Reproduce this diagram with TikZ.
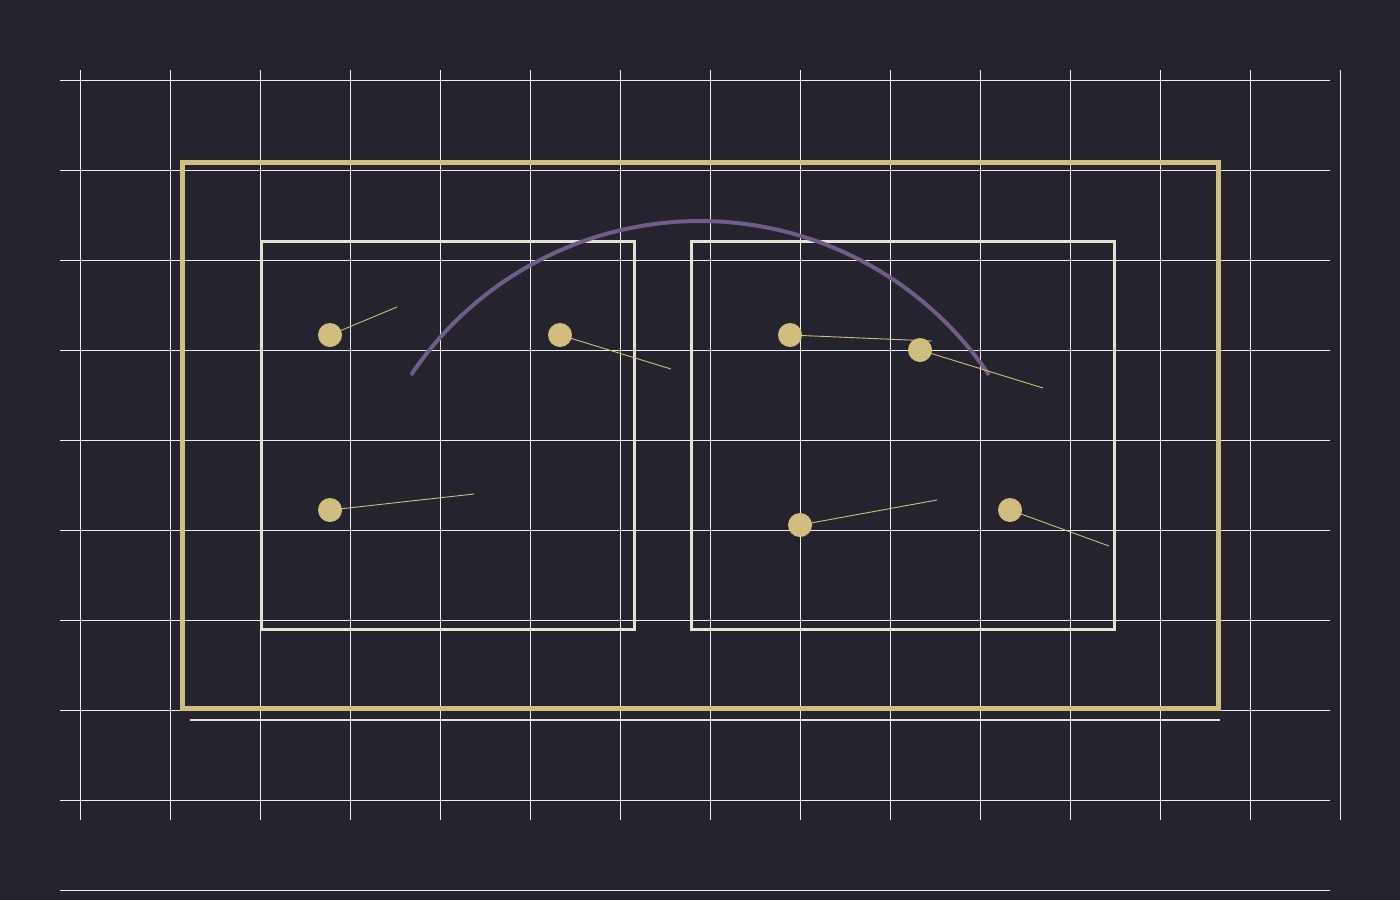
\documentclass[tikz,border=0pt]{standalone}
\usetikzlibrary{calc}
\definecolor{bg}{HTML}{25232E}
\definecolor{gold}{HTML}{CFBE7E}
\definecolor{cream}{HTML}{E6E1D6}
\definecolor{purp}{HTML}{705D86}
\begin{document}
\begin{tikzpicture}[x=1pt,y=-1pt,
  gridline/.style={draw=white!92!bg,line width=1pt},
  outerbox/.style={draw=gold,line width=5pt},
  innerbox/.style={draw=cream,line width=3pt},
  dot/.style={circle,fill=gold,minimum size=24pt,inner sep=0pt},
  leader/.style={draw=gold,line width=0.9pt},
  arcline/.style={draw=purp,line width=4pt}]
\fill[bg] (0,0) rectangle (1400,900);
\useasboundingbox (0,0) rectangle (1400,900);
% grid
\foreach \x in {80,170,...,1340} \draw[gridline] (\x,70) -- (\x,820);
\foreach \y in {80,170,...,800} \draw[gridline] (60,\y) -- (1330,\y);
\draw[gridline] (60,890) -- (1330,890);
% boxes
\draw[outerbox] (182,162) rectangle (1218,708);
\draw[draw=cream,line width=2pt] (190,720) -- (1220,720);
\draw[innerbox] (261,241) rectangle (634,629);
\draw[innerbox] (691,241) rectangle (1114,629);
% arc
\draw[arcline] (411,375) arc[start angle=-146.1,end angle=-33.9,radius=348.2];
% leaders
\coordinate (e1) at (397,307);
\coordinate (e2) at (671,369);
\coordinate (e3) at (932,341);
\coordinate (e4) at (1043,388);
\coordinate (e5) at (474,494);
\coordinate (e6) at (937,500);
\coordinate (e7) at (1109,546);
\coordinate (c1) at (330,335);
\coordinate (c2) at (560,335);
\coordinate (c3) at (790,335);
\coordinate (c4) at (920,350);
\coordinate (c5) at (330,510);
\coordinate (c6) at (800,525);
\coordinate (c7) at (1010,510);
\foreach \i in {1,...,7} \draw[leader] (c\i) -- (e\i);
\foreach \i in {1,...,7} \node[dot] (d\i) at (c\i) {};
\end{tikzpicture}
\end{document}
